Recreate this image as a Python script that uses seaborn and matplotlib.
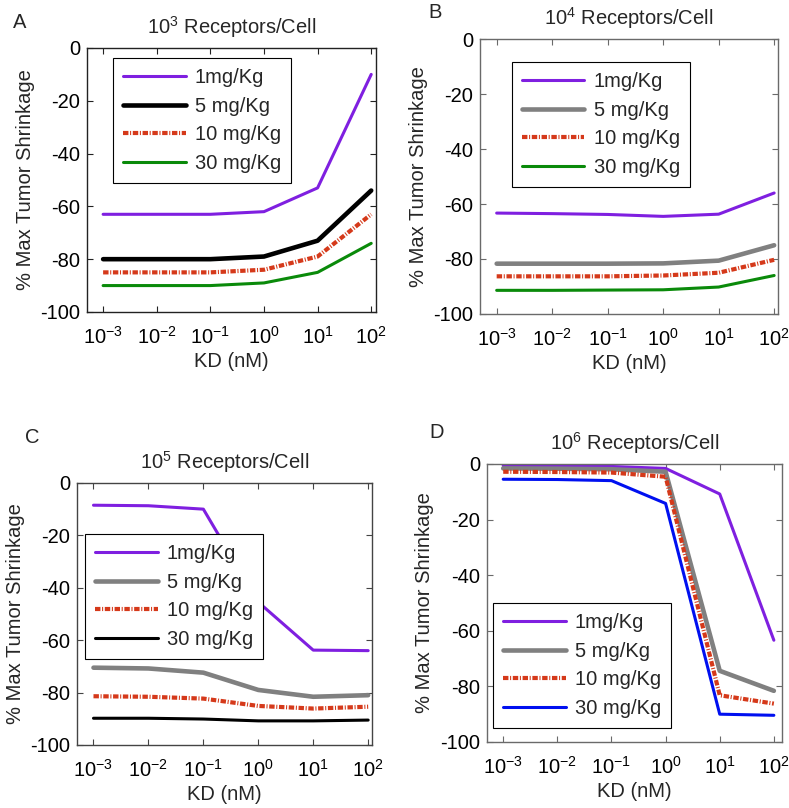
import numpy as np
import pandas as pd
import matplotlib
matplotlib.use("Agg")
import matplotlib.pyplot as plt
import seaborn as sns

# ---------------- data ----------------
kd = [1e-3, 1e-2, 1e-1, 1e0, 1e1, 1e2]
doses = ["1mg/Kg", "5 mg/Kg", "10 mg/Kg", "30 mg/Kg"]

a_1mg = [-63, -63, -63, -62, -53, -10]
a_5mg = [-80, -80, -80, -79, -73, -54]
a_10mg = [-85, -85, -85, -84, -79, -63]
a_30mg = [-90, -90, -90, -89, -85, -74]

b_1mg = [-63.3, -63.5, -63.8, -64.5, -63.7, -56]
b_5mg = [-81.7, -81.7, -81.7, -81.6, -80.6, -75]
b_10mg = [-86.3, -86.3, -86.3, -86.0, -85.0, -80.3]
b_30mg = [-91.4, -91.4, -91.3, -91.2, -90.2, -86]

c_1mg = [-8.5, -8.7, -10, -45.5, -63.8, -64]
c_5mg = [-70.5, -70.8, -72.4, -79, -81.6, -81]
c_10mg = [-81.4, -81.6, -82.3, -85.1, -86.1, -85.4]
c_30mg = [-89.8, -89.8, -90.1, -90.8, -90.8, -90.5]

d_1mg = [-0.6, -0.7, -0.9, -1.6, -10.8, -63.4]
d_5mg = [-1.6, -1.7, -1.9, -2.8, -74.4, -81.6]
d_10mg = [-2.8, -2.9, -3.1, -4.6, -83.2, -86.2]
d_30mg = [-5.5, -5.6, -6.0, -14.2, -90.0, -90.4]

titles = [r"10$^{3}$ Receptors/Cell", r"10$^{4}$ Receptors/Cell",
          r"10$^{5}$ Receptors/Cell", r"10$^{6}$ Receptors/Cell"]
letters = ["A", "B", "C", "D"]
xticks = [1e-3, 1e-2, 1e-1, 1e0, 1e1, 1e2]
yticks = [-100, -80, -60, -40, -20, 0]

# ---------------- style ----------------
sns.set_style("ticks")
plt.rcParams["font.family"] = ["Liberation Sans", "DejaVu Sans"]
plt.rcParams["mathtext.default"] = "regular"

PURPLE = "#7f1fe0"
BLACK = "#000000"
GRAY = "#808080"
RED = "#d5391a"
GREEN = "#0a8a0a"
BLUE = "#0010f0"

panels = [
    dict(data=[a_1mg, a_5mg, a_10mg, a_30mg], colors=[PURPLE, BLACK, RED, GREEN],
         rect=[0.1103, 0.6139, 0.3663, 0.3267], leg=(113, 58), frame="#222222",
         letter=(20, 23), xmax=2.09),
    dict(data=[b_1mg, b_5mg, b_10mg, b_30mg], colors=[PURPLE, GRAY, RED, GREEN],
         rect=[0.6084, 0.6114, 0.3777, 0.3403], leg=(512, 62), frame="#6a6a6a",
         letter=(435, 13), xmax=2.07),
    dict(data=[c_1mg, c_5mg, c_10mg, c_30mg], colors=[PURPLE, GRAY, RED, BLACK],
         rect=[0.0976, 0.0780, 0.3739, 0.3243], leg=(85, 534), frame="#444444",
         letter=(32, 437), xmax=2.07),
    dict(data=[d_1mg, d_5mg, d_10mg, d_30mg], colors=[PURPLE, GRAY, RED, BLUE],
         rect=[0.6172, 0.0817, 0.3739, 0.3441], leg=(493, 603), frame="#6a6a6a",
         letter=(437, 433), xmax=2.15),
]

W, H = 789, 808
fig = plt.figure(figsize=(W / 100, H / 100), dpi=100)

FS = 14.5
for i, p in enumerate(panels):
    ax = fig.add_axes(p["rect"])
    ax.set_xscale("log")
    handles = []
    for j, (vals, col) in enumerate(zip(p["data"], p["colors"])):
        df = pd.DataFrame({"KD": kd, "val": vals})
        if j == 2:
            lw = 3.0
        elif j == 1:
            lw = 3.3
        else:
            lw = 2.2
        sns.lineplot(data=df, x="KD", y="val", ax=ax, color=col, linewidth=lw,
                     label=doses[j], legend=False)
        line = ax.lines[-1]
        if j == 2:
            line.set_dashes([1.3, 0.4, 0.25, 0.4])
            line.set_dash_capstyle("butt")
        handles.append(line)
    ax.set_xlim(10 ** -3.3, 10 ** p["xmax"])
    ax.set_ylim(-100, 0)
    ax.set_xticks(xticks)
    ax.set_yticks(yticks)
    ax.set_yticklabels([str(t) for t in yticks])
    ax.tick_params(axis="both", which="both", direction="in", top=True, right=True,
                   labelsize=FS, colors=p["frame"], labelcolor="black")
    ax.tick_params(which="major", length=4, width=0.8)
    ax.tick_params(which="minor", length=2, width=0.6)
    ax.tick_params(axis="x", which="major", pad=10)
    ax.tick_params(axis="y", which="major", pad=5)
    for s in ax.spines.values():
        s.set_visible(True)
        s.set_color(p["frame"])
        s.set_linewidth(1.0)
    ax.set_xlabel("KD (nM)", fontsize=FS, labelpad=3)
    ax.set_ylabel("% Max Tumor Shrinkage", fontsize=FS, labelpad=4)
    ax.set_title(titles[i], fontsize=FS, pad=10)
    lx, ly = p["leg"]
    leg = ax.legend(handles=handles, labels=doses, loc="upper left",
                    bbox_to_anchor=(lx / W, 1 - ly / H),
                    bbox_transform=fig.transFigure, fontsize=FS,
                    frameon=True, fancybox=False, edgecolor="black",
                    framealpha=1, handlelength=3.1, handletextpad=0.45,
                    labelspacing=0.48, borderpad=0.5, borderaxespad=0)
    leg.get_frame().set_linewidth(0.8)
    fx, fy = p["letter"]
    fig.text(fx / W, 1 - fy / H, letters[i], fontsize=FS, ha="center", va="center")

fig.savefig("out.png", dpi=100)
